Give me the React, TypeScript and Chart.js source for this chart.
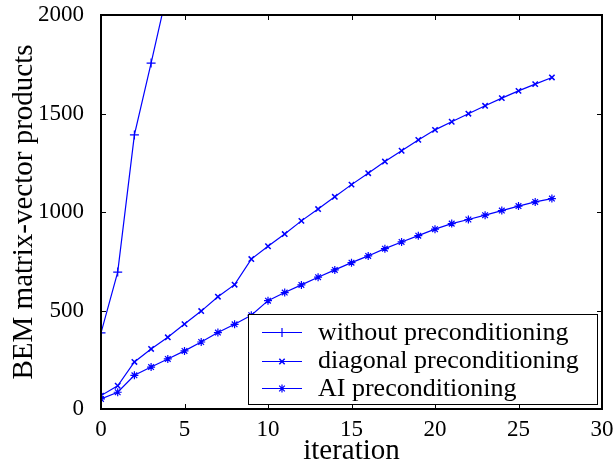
import React, { useEffect, useRef } from "react";
import { Chart, registerables } from "chart.js";

Chart.register(...registerables);

const iterations = [0, 1, 2, 3, 4, 5, 6, 7, 8, 9, 10, 11, 12, 13, 14, 15, 16, 17, 18, 19, 20, 21, 22, 23, 24, 25, 26, 27];
const withoutPrec = [386, 695, 1391, 1756, 2130];
const diagonalPrec = [68, 118, 239, 305, 364, 431, 497, 570, 631, 761, 826, 888, 955, 1015, 1077, 1139, 1197, 1256, 1311, 1366, 1417, 1458, 1499, 1539, 1578, 1615, 1649, 1683];
const aiPrec = [51, 85, 171, 213, 254, 295, 340, 388, 430, 476, 550, 591, 630, 669, 706, 743, 777, 814, 848, 880, 913, 941, 962, 984, 1007, 1030, 1051, 1068];
const seriesLabels = ["without preconditioning", "diagonal preconditioning", "AI preconditioning"];
const xTicks = [0, 5, 10, 15, 20, 25, 30];
const yTicks = [0, 500, 1000, 1500, 2000];

const BLUE = "#0000ff";
const FONT = "'Liberation Serif', 'DejaVu Serif', serif";

function drawMarker(ctx: CanvasRenderingContext2D, style: string, x: number, y: number, r: number) {
  ctx.beginPath();
  if (style === "cross" || style === "star") {
    ctx.moveTo(x - r, y);
    ctx.lineTo(x + r, y);
    ctx.moveTo(x, y - r);
    ctx.lineTo(x, y + r);
  }
  if (style === "crossRot" || style === "star") {
    const d = r * Math.SQRT1_2;
    ctx.moveTo(x - d, y - d);
    ctx.lineTo(x + d, y + d);
    ctx.moveTo(x - d, y + d);
    ctx.lineTo(x + d, y - d);
  }
  ctx.stroke();
}

const framePlugin = {
  id: "frameTicksLegend",
  afterDraw(chart: any) {
    const { ctx, chartArea, scales } = chart;
    const { left, right, top, bottom } = chartArea;
    ctx.save();
    ctx.strokeStyle = "#000";
    ctx.lineWidth = 1;
    const tl = 5;
    ctx.beginPath();
    for (const v of xTicks) {
      const px = Math.round(scales.x.getPixelForValue(v)) + 0.5;
      ctx.moveTo(px, bottom);
      ctx.lineTo(px, bottom - tl);
      ctx.moveTo(px, top);
      ctx.lineTo(px, top + tl);
    }
    for (const v of yTicks) {
      const py = Math.round(scales.y.getPixelForValue(v)) + 0.5;
      ctx.moveTo(left, py);
      ctx.lineTo(left + tl, py);
      ctx.moveTo(right, py);
      ctx.lineTo(right - tl, py);
    }
    ctx.stroke();
    ctx.lineWidth = 2;
    ctx.strokeRect(left, top, right - left, bottom - top);

    // legend
    const lw = 349;
    const lh = 90;
    const lx = right - 5 - lw;
    const ly = bottom - 5 - lh;
    ctx.fillStyle = "#fff";
    ctx.fillRect(lx, ly, lw, lh);
    ctx.lineWidth = 1;
    ctx.strokeStyle = "#000";
    ctx.strokeRect(Math.round(lx) + 0.5, Math.round(ly) + 0.5, lw, lh);
    const rowY = [ly + 18, ly + 46.5, ly + 74];
    ctx.font = `26px ${FONT}`;
    ctx.textBaseline = "middle";
    ctx.textAlign = "left";
    chart.data.datasets.forEach((ds: any, i: number) => {
      const y = Math.round(rowY[i]) + 0.5;
      ctx.strokeStyle = BLUE;
      ctx.lineWidth = 1.2;
      ctx.beginPath();
      ctx.moveTo(lx + 14, y);
      ctx.lineTo(lx + 54, y);
      ctx.stroke();
      ctx.lineWidth = ds.pointBorderWidth;
      drawMarker(ctx, ds.pointStyle, lx + 34, y, ds.pointRadius);
      ctx.fillStyle = "#000";
      ctx.fillText(ds.label, lx + 70, rowY[i] + 1);
    });
    ctx.restore();
  },
};

export default function App() {
  const canvasRef = useRef<HTMLCanvasElement | null>(null);

  useEffect(() => {
    const canvas = canvasRef.current;
    if (!canvas) return;
    const mk = (vals: number[]) => vals.map((v, i) => ({ x: iterations[i], y: v }));
    const common = {
      borderColor: BLUE,
      backgroundColor: BLUE,
      borderWidth: 1.2,
      pointBorderWidth: 1.2,
      pointBorderColor: BLUE,
      tension: 0,
      clip: 0,
    };
    const chart = new Chart(canvas, {
      type: "line",
      data: {
        datasets: [
          { ...common, label: seriesLabels[0], data: mk(withoutPrec), pointStyle: "cross", pointRadius: 4.5 },
          { ...common, label: seriesLabels[1], data: mk(diagonalPrec), pointStyle: "crossRot", pointRadius: 3.8, pointBorderWidth: 1.5 },
          { ...common, label: seriesLabels[2], data: mk(aiPrec), pointStyle: "star", pointRadius: 4 },
        ] as any,
      },
      options: {
        responsive: false,
        animation: false,
        devicePixelRatio: 1,
        layout: { padding: { top: 15, right: 14, left: 0, bottom: 0 } },
        plugins: {
          legend: { display: false },
          tooltip: { enabled: false },
        },
        scales: {
          x: {
            type: "linear",
            min: 0,
            max: 30,
            grid: { display: false },
            border: { display: false },
            ticks: {
              stepSize: 5,
              color: "#000",
              font: { family: FONT, size: 23, lineHeight: 1 },
              padding: 1,
              maxRotation: 0,
            },
            title: {
              display: true,
              text: "iteration",
              color: "#000",
              font: { family: FONT, size: 29, lineHeight: 1 },
              padding: { top: 0, bottom: -1 },
            },
            afterFit: (s: any) => {
              s.height = 56;
              s.paddingLeft = 0;
              s.paddingRight = 0;
            },
          },
          y: {
            type: "linear",
            min: 0,
            max: 2000,
            grid: { display: false },
            border: { display: false },
            ticks: {
              stepSize: 500,
              color: "#000",
              font: { family: FONT, size: 23, lineHeight: 1 },
              padding: 9,
              callback: (v: any) => String(v),
            },
            title: {
              display: true,
              text: "BEM matrix-vector products",
              color: "#000",
              font: { family: FONT, size: 29, lineHeight: 1 },
              padding: { top: 10, bottom: 0 },
            },
            afterFit: (s: any) => {
              s.width = 101;
              s.paddingTop = 0;
              s.paddingBottom = 0;
            },
          },
        },
      },
      plugins: [framePlugin],
    });
    return () => chart.destroy();
  }, []);

  return (
    <div style={{ position: "fixed", left: 0, top: 0, width: 616, height: 465, background: "#fff" }}>
      <canvas ref={canvasRef} width={616} height={465} />
    </div>
  );
}
